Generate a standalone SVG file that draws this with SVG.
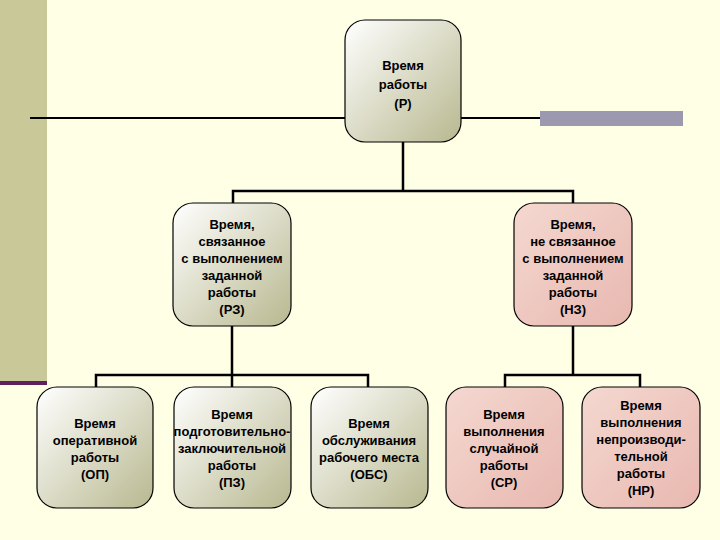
<svg xmlns="http://www.w3.org/2000/svg" width="720" height="540" viewBox="0 0 720 540">
<defs>
<linearGradient id="g" x1="0" y1="0" x2="1" y2="1"><stop offset="0" stop-color="#ffffff"/><stop offset="1" stop-color="#b8b890"/></linearGradient>
<linearGradient id="p" x1="0" y1="0" x2="1" y2="1"><stop offset="0" stop-color="#f4d8d0"/><stop offset="1" stop-color="#e8b8b0"/></linearGradient>
<style>
.n{stroke:#000;stroke-width:1.2}
.c{stroke:#000;stroke-width:2.5;fill:none}
text{font-family:"Liberation Sans",Arial,sans-serif;font-weight:bold;font-size:13px;text-anchor:middle;fill:#000}
</style>
</defs>
<rect width="720" height="540" fill="#ffffe6"/>
<rect width="47" height="382" fill="#c8c898"/>
<rect y="381" width="47" height="4" fill="#602060"/>
<line x1="30" y1="118" x2="345" y2="118" stroke="#000" stroke-width="2"/>
<line x1="461" y1="118" x2="540" y2="118" stroke="#000" stroke-width="2"/>
<rect x="540" y="111" width="143" height="15" fill="#9c98b0"/>
<g id="connectors">
<path class="c" d="M403 142V191M233 203V191H573V203"/>
<path class="c" d="M232 326V375M96 387V375H368V387M232 375V387"/>
<path class="c" d="M573 326V375M505 387V375H640V387"/>
</g>
<g id="P"><rect class="n" x="345" y="20" width="116" height="122" rx="20" fill="url(#g)"/>
<text x="403" y="70" font-size="14">Время</text><text x="403" y="89" font-size="14">работы</text><text x="403" y="108" font-size="14">(Р)</text></g>
<g id="RZ"><rect class="n" x="173" y="203" width="118" height="123" rx="20" fill="url(#g)"/>
<text x="232" y="229">Время,</text><text x="232" y="246">связанное</text><text x="232" y="263">с выполнением</text><text x="232" y="280">заданной</text><text x="232" y="297">работы</text><text x="232" y="314">(РЗ)</text></g>
<g id="NZ"><rect class="n" x="514" y="203" width="118" height="123" rx="20" fill="url(#p)"/>
<text x="573" y="229">Время,</text><text x="573" y="246">не связанное</text><text x="573" y="263">с выполнением</text><text x="573" y="280">заданной</text><text x="573" y="297">работы</text><text x="573" y="314">(НЗ)</text></g>
<g id="OP"><rect class="n" x="37" y="387" width="116" height="121" rx="20" fill="url(#g)"/>
<text x="95" y="428">Время</text><text x="95" y="445">оперативной</text><text x="95" y="462">работы</text><text x="95" y="479">(ОП)</text></g>
<g id="PZ"><rect class="n" x="174" y="387" width="117" height="121" rx="20" fill="url(#g)"/>
<text x="232" y="419">Время</text><text x="232" y="436">подготовительно-</text><text x="232" y="453">заключительной</text><text x="232" y="470">работы</text><text x="232" y="487">(ПЗ)</text></g>
<g id="OBS"><rect class="n" x="311" y="387" width="117" height="121" rx="20" fill="url(#g)"/>
<text x="369" y="428">Время</text><text x="369" y="445">обслуживания</text><text x="369" y="462">рабочего места</text><text x="369" y="479">(ОБС)</text></g>
<g id="SR"><rect class="n" x="446" y="387" width="117" height="121" rx="20" fill="url(#p)"/>
<text x="504" y="419">Время</text><text x="504" y="436">выполнения</text><text x="504" y="453">случайной</text><text x="504" y="470">работы</text><text x="504" y="487">(СР)</text></g>
<g id="NR"><rect class="n" x="582" y="387" width="118" height="121" rx="20" fill="url(#p)"/>
<text x="641" y="410">Время</text><text x="641" y="427">выполнения</text><text x="641" y="444">непроизводи-</text><text x="641" y="461">тельной</text><text x="641" y="478">работы</text><text x="641" y="495">(НР)</text></g>
</svg>
